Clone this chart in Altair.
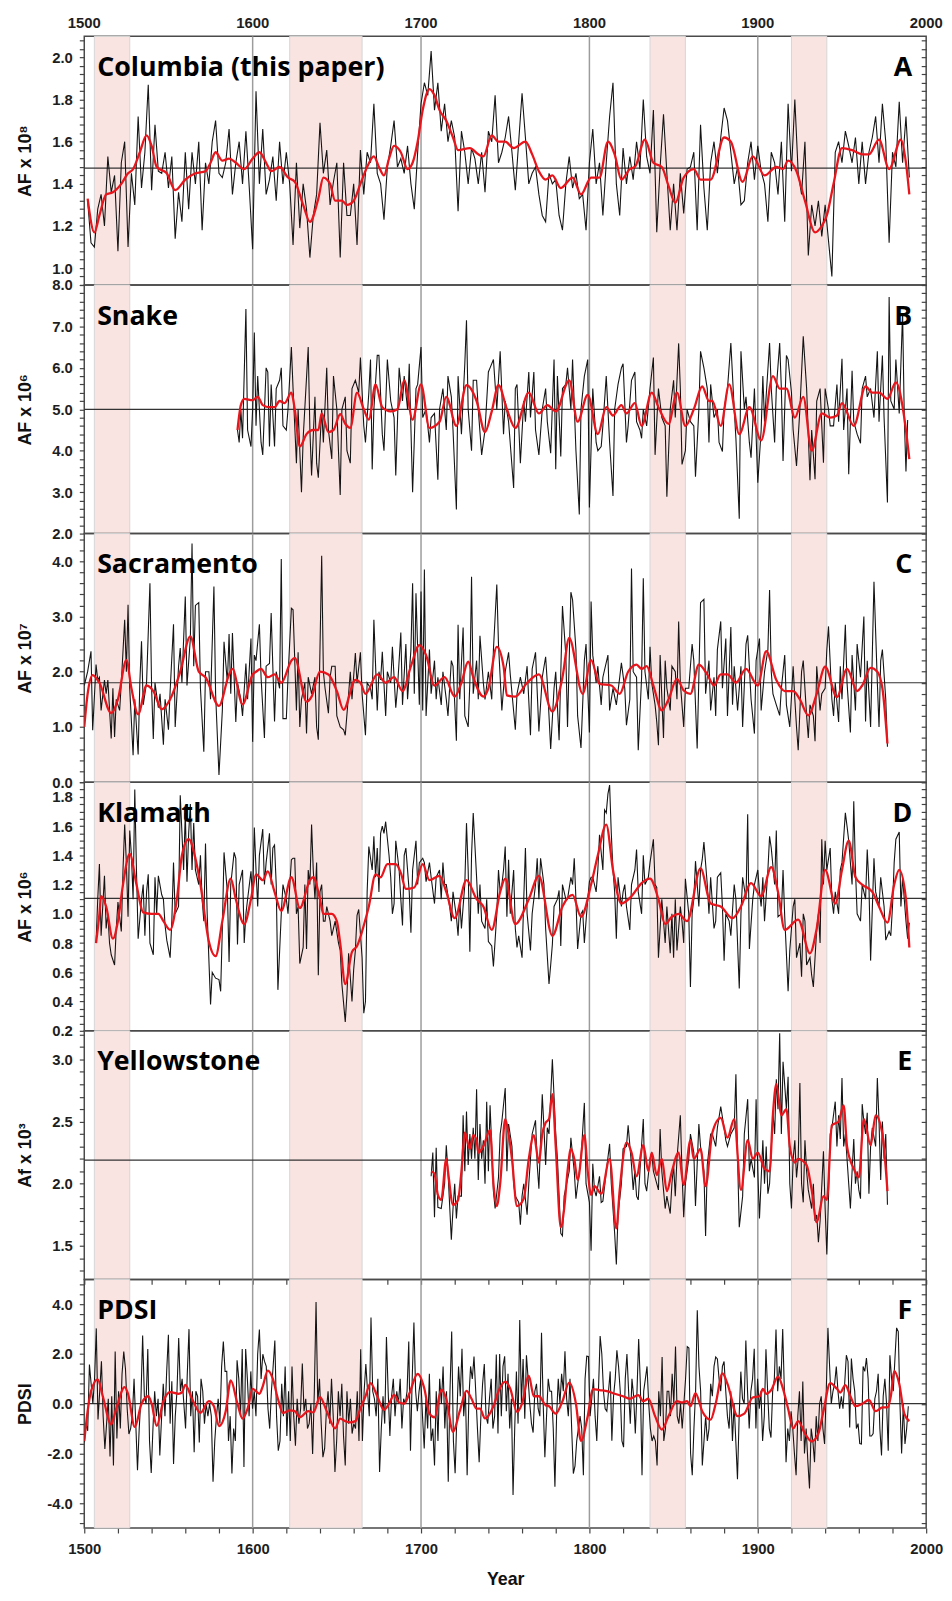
import numpy as np
import pandas as pd
import altair as alt

# ---------------- data ----------------
BANDS_START = [1506, 1622, 1836, 1920]
BANDS_END = [1527, 1665, 1857, 1941]
CENTURIES = [1600, 1700, 1800, 1900]
YEAR_LABELS = [1500, 1600, 1700, 1800, 1900, 2000]

# Columbia, every 2 years from 1502
col_start = 1502
col_vals = [
    1.32, 1.12, 1.10, 1.28, 1.35, 1.20, 1.53, 1.36, 1.44, 1.08,
    1.50, 1.60, 1.10, 1.45, 1.30, 1.72, 1.38, 1.55, 1.87, 1.37,
    1.68, 1.46, 1.45, 1.55, 1.38, 1.53, 1.14, 1.36, 1.22, 1.55,
    1.28, 1.55, 1.40, 1.60, 1.18, 1.50, 1.40, 1.60, 1.70, 1.45,
    1.43, 1.50, 1.66, 1.35, 1.50, 1.60, 1.40, 1.65, 1.38, 1.09,
    1.84, 1.40, 1.66, 1.35, 1.42, 1.53, 1.32, 1.60, 1.40, 1.55,
    1.40, 1.11, 1.50, 1.19, 1.40, 1.28, 1.05, 1.25, 1.35, 1.69,
    1.45, 1.56, 1.30, 1.41, 1.50, 1.05, 1.50, 1.25, 1.25, 1.40,
    1.11, 1.56, 1.35, 1.55, 1.50, 1.78, 1.45, 1.40, 1.23, 1.48,
    1.58, 1.70, 1.48, 1.52, 1.45, 1.58, 1.40, 1.28, 1.55, 1.78,
    1.88, 1.82, 2.03, 1.75, 1.88, 1.65, 1.78, 1.60, 1.70, 1.62,
    1.27, 1.65, 1.55, 1.40, 1.57, 1.52, 1.40, 1.55, 1.36, 1.65,
    1.60, 1.82, 1.50, 1.55, 1.62, 1.72, 1.55, 1.37, 1.60, 1.83,
    1.62, 1.40, 1.45, 1.48, 1.35, 1.25, 1.22, 1.45, 1.40, 1.42,
    1.25, 1.18, 1.40, 1.53, 1.38, 1.45, 1.33, 1.35, 1.18, 1.50,
    1.66, 1.40, 1.50, 1.25, 1.50, 1.72, 1.88, 1.40, 1.25, 1.57,
    1.40, 1.53, 1.42, 1.60, 1.47, 1.80, 1.53, 1.45, 1.75, 1.17,
    1.48, 1.73, 1.45, 1.18, 1.40, 1.18, 1.45, 1.26, 1.47, 1.48,
    1.55, 1.18, 1.68, 1.38, 1.18, 1.50, 1.60, 1.45, 1.62, 1.76,
    1.70, 1.55, 1.40, 1.48, 1.30, 1.32, 1.50, 1.60, 1.42, 1.58,
    1.46, 1.40, 1.22, 1.55, 1.50, 1.35, 1.60, 1.22, 1.78, 1.46,
    1.80, 1.45, 1.35, 1.60, 1.06, 1.30, 1.20, 1.32, 1.15, 1.30,
    1.13, 0.96, 1.55, 1.60, 1.50, 1.65, 1.58, 1.50, 1.62, 1.40,
    1.60, 1.40, 1.55, 1.62, 1.72, 1.50, 1.78, 1.60, 1.12, 1.55,
    1.48, 1.79, 1.50, 1.72, 1.43,
]
col_red = [
    (1502, 1.33), (1506, 1.17), (1509, 1.25), (1513, 1.35), (1517, 1.36), (1522, 1.40),
    (1526, 1.45), (1529, 1.47), (1533, 1.55), (1537, 1.63), (1540, 1.58), (1543, 1.48),
    (1549, 1.45), (1554, 1.37), (1560, 1.42), (1566, 1.45), (1572, 1.46), (1575, 1.50),
    (1578, 1.55), (1582, 1.51), (1586, 1.52), (1590, 1.50), (1595, 1.47), (1600, 1.52),
    (1604, 1.55), (1608, 1.50), (1611, 1.46), (1616, 1.48), (1621, 1.43), (1625, 1.41),
    (1630, 1.30), (1634, 1.22), (1639, 1.33), (1642, 1.43), (1646, 1.40), (1649, 1.32),
    (1653, 1.32), (1656, 1.30), (1660, 1.32), (1664, 1.40), (1668, 1.48), (1672, 1.53),
    (1675, 1.48), (1678, 1.44), (1681, 1.52), (1684, 1.58), (1688, 1.55), (1692, 1.47),
    (1695, 1.50), (1698, 1.60), (1701, 1.75), (1705, 1.85), (1708, 1.82), (1711, 1.75),
    (1715, 1.70), (1719, 1.62), (1722, 1.56), (1729, 1.57), (1734, 1.54), (1737, 1.53),
    (1742, 1.63), (1746, 1.60), (1750, 1.60), (1755, 1.57), (1762, 1.60), (1766, 1.54),
    (1770, 1.46), (1774, 1.42), (1778, 1.44), (1783, 1.38), (1790, 1.43), (1795, 1.35),
    (1801, 1.43), (1806, 1.43), (1811, 1.60), (1815, 1.54), (1819, 1.42), (1824, 1.47),
    (1827, 1.48), (1833, 1.61), (1838, 1.50), (1843, 1.48), (1847, 1.39), (1851, 1.31),
    (1856, 1.43), (1862, 1.47), (1866, 1.42), (1872, 1.42), (1880, 1.62), (1884, 1.60),
    (1891, 1.41), (1897, 1.53), (1904, 1.44), (1911, 1.48), (1915, 1.47), (1918, 1.51),
    (1923, 1.46), (1928, 1.32), (1934, 1.17), (1938, 1.20), (1941, 1.25), (1945, 1.40),
    (1950, 1.57), (1956, 1.56), (1962, 1.54), (1966, 1.54), (1972, 1.61), (1978, 1.47),
    (1985, 1.61), (1988, 1.50), (1990, 1.35),
]

snake_obs = [
    (1591, 4.5), (1592, 4.2), (1593, 5.0), (1594, 4.3), (1596, 7.42), (1597, 4.5), (1599, 4.1),
    (1600, 5.0), (1601, 6.85), (1602, 4.6), (1603, 5.8), (1605, 4.2), (1606, 3.9), (1608, 6.0),
    (1609, 5.9), (1610, 4.1), (1611, 5.6), (1613, 4.1), (1614, 5.5), (1616, 5.7), (1617, 6.0),
    (1618, 4.6), (1620, 4.5), (1621, 5.0), (1623, 6.5), (1624, 5.5), (1626, 3.7), (1627, 5.0),
    (1629, 3.0), (1630, 4.3), (1633, 6.5), (1634, 4.5), (1635, 3.4), (1637, 5.3), (1638, 3.7),
    (1639, 3.35), (1641, 5.0), (1642, 4.2), (1644, 6.0), (1645, 4.5), (1647, 3.8), (1648, 5.8),
    (1650, 5.0), (1652, 2.93), (1653, 5.0), (1655, 5.3), (1656, 4.0), (1658, 3.7), (1659, 5.5),
    (1661, 5.7), (1663, 5.4), (1664, 6.25), (1666, 4.6), (1667, 4.2), (1669, 5.4), (1670, 6.2),
    (1671, 3.55), (1672, 5.0), (1674, 6.3), (1675, 6.3), (1677, 4.4), (1678, 4.0), (1680, 6.2),
    (1682, 5.2), (1684, 4.8), (1685, 3.4), (1687, 6.0), (1689, 5.2), (1690, 5.8), (1692, 5.0),
    (1693, 6.1), (1695, 3.0), (1697, 5.5), (1698, 5.6), (1700, 6.5), (1701, 4.8), (1703, 5.0),
    (1705, 4.2), (1706, 4.8), (1708, 4.9), (1710, 3.3), (1711, 5.0), (1713, 5.5), (1715, 4.5),
    (1716, 5.8), (1718, 5.3), (1719, 4.5), (1721, 2.58), (1722, 5.8), (1724, 4.4), (1726, 6.1),
    (1727, 7.15), (1728, 5.0), (1730, 4.0), (1731, 5.7), (1733, 5.7), (1734, 5.0), (1736, 3.9),
    (1738, 4.5), (1740, 5.9), (1741, 6.0), (1743, 6.2), (1745, 5.0), (1747, 6.4), (1749, 4.4),
    (1750, 5.2), (1752, 4.7), (1755, 3.1), (1756, 5.5), (1757, 5.6), (1759, 3.7), (1761, 5.2),
    (1762, 4.7), (1764, 5.9), (1765, 4.8), (1767, 5.9), (1768, 4.5), (1770, 3.9), (1772, 5.0),
    (1774, 5.5), (1775, 4.7), (1777, 3.94), (1779, 6.2), (1780, 3.55), (1781, 5.8), (1783, 3.86),
    (1784, 5.5), (1786, 5.6), (1787, 6.0), (1789, 5.0), (1790, 6.2), (1792, 4.0), (1794, 2.46),
    (1795, 5.0), (1797, 5.8), (1799, 6.2), (1800, 2.63), (1802, 5.5), (1804, 4.2), (1805, 4.0),
    (1807, 4.1), (1808, 4.6), (1810, 5.8), (1812, 4.2), (1814, 2.91), (1815, 5.0), (1817, 5.6),
    (1819, 6.0), (1820, 6.1), (1822, 4.2), (1823, 4.6), (1825, 5.7), (1827, 5.9), (1828, 4.7),
    (1830, 4.5), (1831, 4.3), (1832, 5.0), (1834, 4.6), (1836, 5.5), (1838, 6.25), (1839, 3.9),
    (1841, 5.5), (1843, 4.8), (1845, 4.6), (1846, 2.89), (1848, 5.0), (1850, 5.7), (1851, 4.8),
    (1853, 6.59), (1854, 5.5), (1855, 3.67), (1857, 4.0), (1858, 5.0), (1860, 4.7), (1862, 4.6),
    (1863, 3.37), (1865, 5.0), (1866, 6.4), (1868, 6.0), (1870, 5.5), (1871, 4.2), (1872, 5.6),
    (1874, 4.8), (1876, 5.0), (1877, 4.2), (1879, 3.98), (1880, 5.0), (1882, 5.5), (1884, 6.6),
    (1886, 5.0), (1887, 4.3), (1889, 2.36), (1890, 6.4), (1892, 5.0), (1893, 5.3), (1895, 4.2),
    (1896, 3.83), (1898, 5.5), (1900, 3.23), (1902, 4.5), (1903, 5.8), (1904, 4.7), (1907, 6.6),
    (1908, 5.5), (1910, 4.2), (1911, 5.5), (1913, 6.6), (1914, 5.5), (1915, 3.75), (1917, 6.3),
    (1918, 6.2), (1920, 5.4), (1921, 4.5), (1923, 3.63), (1925, 5.0), (1927, 6.76), (1929, 5.5),
    (1931, 3.29), (1932, 4.5), (1934, 3.31), (1935, 5.2), (1937, 5.5), (1939, 3.71), (1940, 5.5),
    (1942, 5.0), (1943, 4.6), (1945, 4.6), (1947, 5.6), (1948, 4.7), (1950, 6.22), (1951, 4.5),
    (1953, 5.5), (1954, 3.43), (1956, 5.93), (1957, 4.7), (1959, 4.4), (1961, 4.18), (1962, 5.5),
    (1964, 5.8), (1965, 5.3), (1967, 5.5), (1969, 4.8), (1971, 6.4), (1972, 4.7), (1974, 6.3),
    (1975, 4.8), (1977, 2.75), (1978, 7.71), (1979, 5.2), (1981, 5.0), (1982, 6.2), (1984, 4.9),
    (1986, 7.32), (1987, 4.8), (1988, 3.5), (1989, 4.74),
]
snake_red = [
    (1591, 4.5), (1593, 5.1), (1595, 5.25), (1600, 5.22), (1603, 5.3), (1606, 5.1), (1610, 5.05),
    (1613, 5.05), (1616, 5.2), (1619, 5.15), (1623, 5.4), (1625, 5.0), (1628, 4.1), (1632, 4.4),
    (1636, 4.5), (1639, 4.5), (1641, 4.9), (1645, 4.45), (1648, 4.5), (1652, 4.88), (1655, 4.65),
    (1658, 4.55), (1662, 5.4), (1666, 5.0), (1669, 4.75), (1673, 5.6), (1677, 5.05), (1682, 4.95),
    (1686, 5.0), (1690, 5.7), (1695, 4.75), (1700, 5.6), (1705, 4.55), (1711, 4.7), (1715, 5.3),
    (1721, 4.6), (1727, 5.58), (1733, 5.2), (1738, 4.45), (1742, 4.95), (1746, 5.58), (1751, 5.0),
    (1756, 4.55), (1764, 5.4), (1770, 4.9), (1775, 5.1), (1780, 4.95), (1788, 5.7), (1793, 4.7),
    (1799, 5.35), (1805, 4.4), (1810, 5.05), (1814, 4.85), (1819, 5.1), (1822, 4.9), (1827, 5.15),
    (1831, 4.6), (1837, 5.4), (1841, 5.05), (1847, 4.65), (1852, 5.4), (1857, 4.6), (1862, 5.0),
    (1867, 5.55), (1871, 5.2), (1873, 5.2), (1878, 4.6), (1883, 5.6), (1889, 4.4), (1895, 5.05),
    (1902, 4.25), (1909, 5.8), (1913, 5.5), (1917, 5.5), (1922, 4.8), (1927, 5.3), (1932, 4.0),
    (1938, 4.9), (1943, 4.8), (1947, 4.85), (1950, 5.15), (1957, 4.6), (1964, 5.55), (1968, 5.4),
    (1972, 5.4), (1977, 5.25), (1982, 5.65), (1987, 4.8), (1990, 3.8),
]

sac_obs = [
    (1500, 1.75), (1502, 2.00), (1504, 2.37), (1505, 0.94), (1507, 2.13), (1508, 1.85), (1509, 1.90),
    (1510, 1.30), (1512, 1.85), (1513, 1.60), (1514, 1.85), (1516, 0.79), (1517, 1.70), (1518, 0.82),
    (1519, 1.50), (1521, 1.30), (1522, 1.80), (1524, 2.94), (1525, 2.00), (1526, 3.21), (1527, 1.70),
    (1529, 0.49), (1530, 1.50), (1532, 0.50), (1533, 1.80), (1534, 2.55), (1535, 1.40), (1537, 1.80),
    (1539, 3.60), (1540, 1.70), (1541, 0.78), (1542, 1.80), (1544, 1.35), (1545, 1.60), (1547, 0.68),
    (1548, 1.50), (1550, 0.95), (1551, 1.65), (1553, 2.86), (1554, 1.00), (1556, 2.10), (1557, 2.43),
    (1558, 1.80), (1560, 3.36), (1561, 1.75), (1563, 2.60), (1564, 4.32), (1565, 2.10), (1566, 3.20),
    (1568, 3.25), (1569, 1.70), (1571, 0.55), (1572, 2.00), (1574, 2.00), (1575, 1.50), (1577, 3.54),
    (1578, 1.60), (1580, 0.13), (1582, 1.30), (1583, 2.54), (1585, 1.80), (1586, 2.68), (1587, 1.60),
    (1588, 2.70), (1590, 1.09), (1591, 1.80), (1593, 1.50), (1594, 1.20), (1596, 2.15), (1597, 1.50),
    (1599, 2.60), (1600, 0.73), (1601, 2.30), (1602, 2.20), (1604, 2.86), (1605, 1.90), (1607, 0.80),
    (1608, 2.10), (1610, 2.15), (1611, 3.06), (1613, 1.10), (1614, 2.00), (1616, 1.70), (1617, 4.04),
    (1618, 1.15), (1620, 1.15), (1621, 1.90), (1623, 3.15), (1624, 3.12), (1626, 1.30), (1627, 2.35),
    (1628, 1.00), (1629, 1.50), (1631, 1.80), (1632, 0.88), (1633, 1.90), (1635, 1.60), (1637, 1.90),
    (1638, 1.00), (1639, 0.77), (1641, 4.10), (1642, 2.00), (1643, 1.70), (1645, 1.25), (1646, 1.90),
    (1647, 2.10), (1649, 2.10), (1650, 1.20), (1652, 1.00), (1654, 0.95), (1655, 0.85), (1657, 1.60),
    (1658, 2.00), (1659, 1.50), (1661, 2.34), (1662, 1.80), (1664, 2.35), (1665, 1.60), (1667, 0.85),
    (1668, 1.80), (1670, 1.70), (1671, 1.50), (1672, 2.94), (1674, 1.30), (1675, 2.00), (1676, 1.85),
    (1677, 2.36), (1679, 1.20), (1680, 2.00), (1682, 1.80), (1683, 2.45), (1685, 1.35), (1686, 1.70),
    (1688, 2.71), (1689, 1.40), (1691, 2.50), (1692, 1.50), (1694, 2.40), (1695, 3.60), (1696, 1.60),
    (1697, 3.42), (1699, 1.40), (1700, 3.45), (1701, 1.30), (1702, 3.85), (1703, 1.20), (1705, 2.40),
    (1706, 1.60), (1708, 2.20), (1709, 1.50), (1710, 1.90), (1712, 1.40), (1713, 2.00), (1715, 1.50),
    (1716, 1.20), (1718, 2.20), (1719, 2.10), (1721, 0.75), (1722, 2.85), (1723, 1.50), (1725, 2.80),
    (1726, 1.20), (1728, 1.00), (1729, 1.80), (1730, 3.72), (1731, 1.60), (1733, 2.20), (1734, 1.50),
    (1735, 2.65), (1737, 1.80), (1738, 1.50), (1740, 2.00), (1742, 1.50), (1743, 2.40), (1745, 3.58),
    (1746, 2.50), (1748, 1.30), (1749, 1.70), (1750, 2.00), (1752, 2.35), (1753, 1.95), (1756, 0.95),
    (1757, 1.60), (1759, 1.90), (1761, 1.60), (1763, 2.10), (1765, 0.85), (1766, 2.05), (1768, 2.35),
    (1770, 0.92), (1772, 1.90), (1774, 2.27), (1775, 1.80), (1777, 0.60), (1779, 1.70), (1780, 2.00),
    (1782, 0.76), (1784, 3.19), (1786, 2.30), (1787, 1.00), (1789, 3.44), (1790, 3.30), (1792, 2.40),
    (1793, 1.20), (1795, 0.62), (1797, 2.20), (1798, 2.50), (1800, 0.90), (1801, 3.27), (1802, 2.30),
    (1804, 1.80), (1805, 2.10), (1807, 1.40), (1808, 1.90), (1811, 2.30), (1812, 1.30), (1814, 1.70),
    (1816, 1.40), (1818, 1.90), (1819, 2.16), (1821, 1.70), (1822, 1.03), (1824, 1.50), (1825, 3.87),
    (1826, 2.00), (1828, 1.90), (1829, 0.58), (1831, 1.90), (1832, 3.69), (1833, 2.00), (1835, 1.50),
    (1836, 2.45), (1837, 1.80), (1839, 1.40), (1840, 1.09), (1841, 0.67), (1842, 2.30), (1844, 0.80),
    (1845, 2.20), (1846, 1.70), (1848, 1.30), (1849, 2.10), (1851, 2.00), (1852, 1.50), (1853, 2.91),
    (1854, 1.80), (1856, 1.00), (1857, 1.70), (1859, 1.70), (1861, 2.50), (1862, 2.20), (1864, 0.61),
    (1865, 1.90), (1866, 3.25), (1868, 3.31), (1869, 1.60), (1871, 2.20), (1872, 1.30), (1874, 1.90),
    (1875, 1.20), (1876, 2.40), (1878, 2.91), (1879, 1.70), (1881, 2.60), (1882, 1.20), (1884, 2.81),
    (1885, 1.40), (1886, 2.10), (1888, 1.30), (1890, 2.10), (1891, 1.00), (1893, 2.50), (1894, 2.66),
    (1896, 1.50), (1898, 0.88), (1899, 2.20), (1901, 2.60), (1902, 1.30), (1904, 2.00), (1906, 2.40),
    (1907, 3.48), (1908, 2.00), (1909, 1.60), (1911, 1.40), (1913, 1.21), (1914, 1.70), (1916, 2.30),
    (1917, 1.40), (1919, 1.00), (1921, 2.10), (1922, 1.50), (1923, 1.00), (1924, 0.58), (1926, 2.00),
    (1927, 2.20), (1929, 1.20), (1930, 0.80), (1931, 1.40), (1933, 1.20), (1934, 0.74), (1935, 2.10),
    (1937, 1.30), (1938, 1.60), (1940, 1.70), (1941, 2.40), (1942, 2.82), (1944, 1.50), (1945, 1.20),
    (1946, 1.80), (1948, 1.09), (1949, 2.10), (1950, 1.50), (1952, 2.85), (1953, 1.80), (1955, 0.90),
    (1956, 2.30), (1958, 1.30), (1959, 2.50), (1961, 1.90), (1963, 3.00), (1964, 1.10), (1965, 2.20),
    (1967, 1.00), (1968, 2.30), (1969, 3.63), (1971, 1.80), (1972, 1.00), (1973, 2.20), (1974, 2.40),
    (1976, 1.50), (1977, 0.64),
]
sac_red = [
    (1500, 1.00), (1502, 1.60), (1505, 1.94), (1509, 1.80), (1516, 1.25), (1520, 1.50), (1525, 2.21),
    (1528, 1.70), (1532, 1.23), (1537, 1.75), (1541, 1.65), (1546, 1.32), (1551, 1.50), (1557, 2.00),
    (1563, 2.64), (1568, 2.00), (1572, 1.90), (1580, 1.38), (1586, 1.95), (1588, 2.05), (1594, 1.41),
    (1600, 1.95), (1602, 2.00), (1605, 2.05), (1609, 1.90), (1613, 1.95), (1617, 1.80), (1623, 2.20),
    (1625, 2.25), (1632, 1.46), (1635, 1.55), (1640, 2.00), (1645, 1.95), (1650, 1.65), (1654, 1.31),
    (1661, 1.85), (1664, 1.80), (1667, 1.60), (1674, 1.95), (1679, 1.80), (1684, 1.90), (1689, 1.65),
    (1694, 2.10), (1699, 2.48), (1703, 2.30), (1708, 1.75), (1714, 1.90), (1720, 1.55), (1724, 1.80),
    (1728, 2.18), (1731, 1.90), (1737, 1.55), (1740, 1.70), (1745, 2.45), (1749, 2.10), (1751, 1.57),
    (1756, 1.55), (1763, 1.80), (1770, 1.95), (1778, 1.28), (1784, 1.90), (1788, 2.61), (1796, 1.60),
    (1801, 2.21), (1806, 1.78), (1813, 1.75), (1818, 1.60), (1823, 2.00), (1828, 2.13), (1831, 2.05),
    (1834, 2.10), (1838, 1.75), (1843, 1.30), (1847, 1.50), (1852, 1.87), (1856, 1.66), (1860, 1.60),
    (1865, 2.13), (1870, 1.95), (1874, 1.75), (1878, 1.95), (1882, 1.95), (1887, 1.80), (1893, 2.05),
    (1900, 1.75), (1905, 2.37), (1911, 1.85), (1916, 1.65), (1921, 1.65), (1925, 1.50), (1930, 1.21),
    (1935, 1.60), (1940, 2.09), (1947, 1.54), (1953, 2.05), (1959, 1.65), (1962, 1.75), (1967, 2.07),
    (1971, 2.00), (1974, 1.70), (1977, 0.70),
]

kla_obs = [
    (1507, 0.80), (1508, 1.10), (1509, 1.34), (1510, 0.85), (1512, 1.26), (1513, 0.90), (1514, 1.00),
    (1515, 0.80), (1516, 0.72), (1518, 0.65), (1519, 0.90), (1520, 1.08), (1522, 0.88), (1523, 1.30),
    (1524, 1.61), (1525, 1.35), (1526, 0.98), (1527, 1.57), (1528, 1.40), (1529, 1.10), (1530, 1.85),
    (1531, 1.30), (1532, 0.83), (1534, 1.10), (1535, 1.20), (1536, 0.85), (1537, 1.15), (1538, 1.27),
    (1539, 0.80), (1541, 0.72), (1542, 1.25), (1543, 1.00), (1544, 1.26), (1546, 1.13), (1547, 1.10),
    (1548, 0.92), (1549, 0.82), (1551, 0.70), (1552, 0.95), (1553, 1.35), (1554, 1.00), (1556, 1.05),
    (1557, 1.81), (1559, 1.30), (1560, 1.69), (1561, 1.22), (1562, 1.55), (1563, 1.75), (1564, 1.30),
    (1565, 1.62), (1566, 1.30), (1568, 1.20), (1569, 1.40), (1570, 1.10), (1571, 0.95), (1572, 1.48),
    (1573, 1.00), (1575, 0.38), (1576, 0.60), (1578, 0.56), (1580, 0.55), (1581, 0.47), (1582, 0.90),
    (1583, 1.42), (1585, 1.15), (1586, 0.67), (1587, 1.20), (1589, 1.42), (1590, 1.38), (1591, 0.79),
    (1592, 1.20), (1594, 1.30), (1595, 0.80), (1596, 1.00), (1597, 1.10), (1599, 1.29), (1600, 1.10),
    (1601, 1.59), (1602, 1.30), (1603, 1.05), (1604, 1.40), (1606, 1.58), (1607, 1.20), (1608, 1.35),
    (1610, 1.55), (1611, 1.20), (1612, 1.45), (1613, 1.47), (1614, 1.20), (1615, 0.48), (1617, 1.00),
    (1618, 1.20), (1619, 1.15), (1620, 1.10), (1621, 1.00), (1623, 1.37), (1624, 1.38), (1625, 1.38),
    (1626, 1.00), (1627, 1.05), (1628, 0.66), (1630, 0.77), (1631, 1.20), (1632, 0.76), (1633, 1.30),
    (1634, 1.20), (1635, 1.61), (1636, 1.30), (1637, 1.10), (1638, 1.35), (1639, 0.58), (1640, 1.15),
    (1641, 1.20), (1642, 0.95), (1643, 0.95), (1644, 1.05), (1646, 0.95), (1647, 0.85), (1648, 0.90),
    (1649, 0.95), (1651, 0.80), (1652, 0.75), (1653, 0.52), (1655, 0.26), (1656, 0.45), (1657, 0.73),
    (1659, 0.40), (1660, 0.62), (1661, 0.75), (1662, 0.99), (1663, 1.03), (1665, 0.70), (1666, 0.32),
    (1667, 0.40), (1668, 1.15), (1669, 1.46), (1671, 1.30), (1672, 1.53), (1673, 1.25), (1674, 1.45),
    (1675, 1.15), (1676, 1.55), (1677, 1.60), (1678, 1.55), (1679, 1.63), (1681, 1.40), (1682, 1.25),
    (1683, 1.00), (1684, 1.07), (1685, 1.50), (1687, 1.30), (1688, 1.10), (1689, 0.92), (1690, 1.40),
    (1691, 1.45), (1693, 1.15), (1694, 0.87), (1695, 1.30), (1697, 1.50), (1698, 1.20), (1699, 1.35),
    (1701, 1.38), (1702, 1.35), (1703, 1.22), (1705, 1.35), (1706, 1.25), (1708, 1.07), (1709, 1.25),
    (1711, 1.30), (1712, 1.10), (1713, 1.35), (1714, 1.20), (1715, 1.20), (1717, 1.05), (1718, 0.95),
    (1719, 1.15), (1721, 0.98), (1722, 0.85), (1723, 1.10), (1724, 0.90), (1726, 1.20), (1727, 1.62),
    (1728, 1.30), (1729, 0.74), (1730, 1.40), (1731, 1.69), (1733, 1.25), (1734, 1.00), (1735, 1.20),
    (1736, 0.95), (1738, 0.90), (1739, 1.10), (1740, 0.81), (1742, 0.78), (1743, 0.64), (1745, 1.00),
    (1746, 1.30), (1747, 1.15), (1748, 1.20), (1749, 1.30), (1750, 1.46), (1751, 0.98), (1752, 1.37),
    (1753, 1.00), (1755, 1.30), (1756, 0.90), (1757, 0.77), (1758, 0.85), (1760, 0.70), (1761, 1.10),
    (1762, 1.45), (1763, 1.00), (1765, 0.75), (1766, 1.00), (1768, 1.20), (1769, 1.38), (1770, 1.10),
    (1771, 1.38), (1773, 1.20), (1774, 0.90), (1776, 0.52), (1777, 0.65), (1778, 0.79), (1779, 1.05),
    (1781, 1.10), (1782, 1.16), (1783, 0.78), (1784, 1.20), (1786, 1.10), (1787, 1.10), (1789, 1.25),
    (1790, 1.20), (1791, 1.38), (1792, 1.10), (1793, 0.76), (1795, 1.00), (1796, 1.02), (1797, 0.80),
    (1799, 1.10), (1800, 1.22), (1801, 1.25), (1802, 1.25), (1804, 1.15), (1805, 1.30), (1806, 1.54),
    (1808, 1.30), (1809, 1.71), (1810, 1.69), (1811, 1.82), (1812, 1.88), (1813, 1.55), (1814, 1.30),
    (1815, 1.15), (1816, 0.83), (1817, 1.25), (1819, 1.05), (1820, 1.15), (1821, 1.20), (1822, 1.05),
    (1824, 0.89), (1825, 1.20), (1827, 1.30), (1828, 1.44), (1829, 1.15), (1831, 1.00), (1832, 1.40),
    (1833, 1.20), (1835, 1.25), (1836, 1.35), (1838, 1.51), (1839, 1.20), (1840, 1.18), (1841, 0.70),
    (1843, 1.10), (1844, 0.95), (1845, 0.80), (1846, 1.05), (1848, 0.73), (1849, 1.00), (1850, 0.70),
    (1851, 1.10), (1852, 0.75), (1854, 1.05), (1855, 0.95), (1856, 0.80), (1857, 1.24), (1859, 1.00),
    (1860, 0.50), (1861, 1.00), (1862, 1.10), (1863, 1.36), (1865, 1.05), (1866, 1.30), (1867, 1.37),
    (1868, 1.49), (1870, 1.20), (1871, 1.00), (1872, 1.25), (1874, 0.90), (1875, 0.95), (1876, 1.25),
    (1878, 1.28), (1879, 1.05), (1880, 0.68), (1881, 1.00), (1883, 0.95), (1884, 0.85), (1886, 1.20),
    (1887, 1.10), (1889, 0.49), (1890, 1.00), (1891, 1.25), (1893, 1.10), (1894, 1.68), (1895, 0.76),
    (1897, 1.10), (1898, 1.20), (1900, 1.30), (1901, 1.15), (1902, 1.05), (1903, 1.25), (1904, 0.95),
    (1906, 1.30), (1907, 1.53), (1908, 1.45), (1910, 1.20), (1911, 1.57), (1912, 0.98), (1914, 1.00),
    (1915, 1.30), (1916, 0.98), (1918, 0.47), (1919, 0.75), (1921, 1.05), (1922, 1.10), (1923, 0.70),
    (1925, 0.80), (1926, 0.57), (1927, 1.00), (1928, 0.95), (1929, 0.65), (1931, 0.70), (1932, 0.58),
    (1933, 0.50), (1935, 0.90), (1936, 1.00), (1937, 0.80), (1938, 1.51), (1939, 1.20), (1940, 1.50),
    (1941, 1.30), (1943, 1.45), (1944, 1.10), (1945, 1.00), (1946, 1.15), (1948, 1.00), (1949, 1.30),
    (1950, 1.35), (1952, 1.69), (1953, 1.60), (1954, 1.50), (1956, 1.20), (1957, 1.77), (1958, 1.30),
    (1959, 1.00), (1961, 0.95), (1962, 1.20), (1964, 1.10), (1965, 1.44), (1966, 1.20), (1967, 0.68),
    (1969, 1.38), (1970, 1.15), (1972, 1.05), (1973, 1.25), (1975, 1.05), (1976, 0.82), (1978, 0.88),
    (1979, 0.85), (1980, 1.05), (1981, 1.35), (1982, 1.51), (1984, 1.56), (1985, 1.05), (1986, 1.25),
    (1988, 0.95), (1989, 0.83), (1990, 0.94),
]
kla_red = [
    (1507, 0.80), (1509, 1.00), (1510, 1.12), (1513, 1.05), (1517, 0.83), (1520, 0.95), (1523, 1.20),
    (1527, 1.41), (1531, 1.20), (1535, 1.01), (1540, 1.00), (1544, 1.00), (1547, 0.95), (1551, 0.89),
    (1555, 1.10), (1558, 1.40), (1562, 1.51), (1566, 1.38), (1569, 1.20), (1574, 0.81), (1578, 0.71),
    (1582, 0.95), (1587, 1.24), (1590, 1.10), (1595, 0.93), (1599, 1.10), (1602, 1.27), (1606, 1.23),
    (1609, 1.29), (1613, 1.15), (1617, 1.02), (1623, 1.25), (1628, 1.04), (1634, 1.23), (1636, 1.25),
    (1640, 1.10), (1642, 1.00), (1647, 1.00), (1650, 0.95), (1652, 0.80), (1655, 0.52), (1659, 0.74),
    (1662, 0.78), (1666, 0.92), (1669, 1.05), (1673, 1.27), (1676, 1.25), (1680, 1.34), (1685, 1.34),
    (1688, 1.28), (1691, 1.17), (1696, 1.18), (1701, 1.34), (1705, 1.23), (1711, 1.26), (1715, 1.15),
    (1720, 0.97), (1727, 1.23), (1733, 1.10), (1737, 1.05), (1742, 0.89), (1747, 1.15), (1750, 1.24),
    (1756, 0.93), (1764, 1.10), (1770, 1.26), (1778, 0.85), (1784, 1.05), (1790, 1.13), (1795, 0.98),
    (1801, 1.20), (1805, 1.40), (1810, 1.61), (1814, 1.30), (1819, 1.07), (1825, 1.12), (1831, 1.21),
    (1836, 1.24), (1841, 1.10), (1845, 0.93), (1849, 0.98), (1853, 1.00), (1858, 0.95), (1866, 1.31),
    (1872, 1.07), (1878, 1.05), (1885, 0.97), (1890, 1.05), (1896, 1.21), (1902, 1.12), (1908, 1.32),
    (1912, 1.15), (1916, 0.89), (1924, 0.96), (1931, 0.73), (1935, 0.90), (1940, 1.30), (1946, 1.07),
    (1950, 1.30), (1954, 1.50), (1958, 1.25), (1962, 1.20), (1968, 1.15), (1972, 1.05), (1977, 0.94),
    (1981, 1.20), (1984, 1.30), (1988, 1.10), (1990, 0.77),
]

yel_obs = [
    (1706, 2.06), (1707, 2.25), (1708, 1.73), (1709, 2.29), (1710, 1.81), (1712, 1.80), (1713, 1.90),
    (1714, 2.00), (1715, 2.31), (1716, 2.10), (1718, 1.55), (1719, 1.80), (1720, 2.00), (1721, 1.72),
    (1722, 1.90), (1724, 1.90), (1725, 2.55), (1726, 2.10), (1727, 2.58), (1728, 2.15), (1729, 2.40),
    (1730, 2.20), (1731, 2.45), (1732, 2.20), (1733, 2.76), (1734, 2.03), (1735, 2.48), (1736, 2.20),
    (1737, 2.35), (1738, 2.00), (1739, 2.66), (1740, 2.10), (1741, 2.63), (1742, 2.30), (1743, 1.94),
    (1744, 1.80), (1746, 2.05), (1747, 2.40), (1748, 2.50), (1750, 2.77), (1751, 2.10), (1752, 2.48),
    (1754, 2.30), (1755, 2.00), (1756, 1.90), (1758, 1.85), (1759, 1.67), (1760, 1.90), (1761, 2.00),
    (1763, 1.75), (1764, 2.00), (1766, 2.40), (1768, 2.51), (1769, 2.15), (1770, 1.96), (1772, 2.72),
    (1773, 2.45), (1774, 2.15), (1775, 2.45), (1776, 2.40), (1778, 3.00), (1780, 2.40), (1781, 2.20),
    (1783, 1.60), (1784, 1.58), (1785, 1.90), (1788, 2.10), (1789, 2.37), (1791, 2.10), (1792, 1.88),
    (1794, 2.10), (1795, 2.20), (1797, 2.65), (1798, 2.00), (1800, 1.85), (1801, 1.46), (1802, 2.16),
    (1803, 1.95), (1804, 1.90), (1806, 2.06), (1807, 1.85), (1808, 1.86), (1810, 2.10), (1812, 2.32),
    (1813, 2.00), (1815, 1.60), (1816, 1.35), (1817, 1.75), (1819, 2.00), (1820, 2.28), (1822, 2.30),
    (1823, 2.47), (1825, 2.15), (1826, 1.95), (1827, 2.10), (1828, 1.90), (1829, 1.87), (1830, 2.10),
    (1832, 2.52), (1833, 2.00), (1834, 1.94), (1836, 2.20), (1837, 2.25), (1838, 2.10), (1840, 2.00),
    (1841, 1.95), (1842, 2.44), (1843, 2.10), (1845, 1.80), (1846, 1.90), (1848, 1.76), (1849, 2.00),
    (1850, 2.15), (1851, 1.90), (1852, 2.20), (1854, 2.55), (1855, 2.10), (1856, 1.73), (1857, 2.00),
    (1859, 2.20), (1860, 2.40), (1862, 2.25), (1863, 1.82), (1865, 2.48), (1866, 2.30), (1868, 2.10),
    (1869, 1.58), (1870, 2.15), (1872, 2.40), (1873, 2.40), (1875, 2.30), (1876, 2.45), (1878, 2.62),
    (1880, 2.45), (1881, 2.35), (1882, 2.30), (1884, 2.40), (1886, 2.45), (1887, 2.88), (1888, 2.20),
    (1889, 1.65), (1891, 1.90), (1892, 2.40), (1894, 2.68), (1895, 2.10), (1896, 2.20), (1898, 2.05),
    (1899, 2.68), (1900, 2.10), (1901, 1.72), (1903, 2.35), (1904, 2.00), (1905, 2.30), (1906, 1.92),
    (1907, 2.00), (1909, 2.57), (1910, 2.40), (1911, 2.84), (1912, 2.60), (1913, 3.21), (1914, 2.40),
    (1915, 2.98), (1917, 2.60), (1918, 2.86), (1919, 2.00), (1920, 1.80), (1921, 2.20), (1922, 2.35),
    (1923, 2.05), (1924, 2.20), (1925, 2.81), (1926, 2.00), (1927, 1.85), (1928, 2.35), (1929, 2.10),
    (1930, 1.95), (1932, 1.80), (1933, 2.00), (1934, 1.70), (1935, 1.75), (1936, 1.53), (1937, 1.70),
    (1939, 2.26), (1940, 1.80), (1941, 1.43), (1942, 1.90), (1943, 2.40), (1944, 2.45), (1946, 2.66),
    (1947, 2.30), (1948, 2.55), (1949, 2.36), (1950, 2.85), (1951, 2.30), (1952, 2.40), (1954, 2.00),
    (1955, 1.80), (1956, 2.10), (1957, 2.36), (1958, 2.00), (1959, 2.10), (1960, 1.95), (1961, 1.88),
    (1962, 2.64), (1963, 2.50), (1964, 2.40), (1965, 2.57), (1966, 1.92), (1967, 2.30), (1968, 2.45),
    (1970, 2.30), (1971, 2.85), (1972, 2.50), (1973, 2.03), (1974, 2.50), (1975, 2.20), (1976, 2.40),
    (1977, 1.83),
]
yel_red = [
    (1706, 2.10), (1708, 2.08), (1710, 1.91), (1712, 1.87), (1715, 2.20), (1716, 2.10), (1719, 1.83),
    (1722, 1.87), (1724, 2.10), (1726, 2.41), (1729, 2.28), (1731, 2.39), (1733, 2.35), (1734, 2.25),
    (1737, 2.30), (1741, 2.43), (1743, 2.00), (1745, 1.82), (1747, 2.00), (1750, 2.52), (1752, 2.40),
    (1754, 2.20), (1757, 1.82), (1761, 1.88), (1764, 2.20), (1767, 2.39), (1770, 2.17), (1772, 2.40),
    (1774, 2.49), (1776, 2.52), (1778, 2.72), (1780, 2.30), (1783, 1.65), (1785, 1.80), (1787, 2.10),
    (1789, 2.28), (1791, 2.20), (1793, 2.03), (1797, 2.39), (1799, 2.10), (1801, 1.91), (1803, 1.98),
    (1807, 1.92), (1812, 2.20), (1816, 1.64), (1818, 1.95), (1822, 2.33), (1825, 2.25), (1828, 2.06),
    (1832, 2.31), (1835, 2.10), (1837, 2.25), (1840, 2.07), (1843, 2.20), (1846, 1.94), (1849, 2.10),
    (1853, 2.25), (1856, 1.99), (1860, 2.35), (1862, 2.20), (1866, 2.28), (1869, 1.98), (1873, 2.41),
    (1878, 2.53), (1882, 2.37), (1886, 2.52), (1890, 1.95), (1894, 2.35), (1897, 2.20), (1900, 2.25),
    (1904, 2.12), (1907, 2.10), (1909, 2.56), (1911, 2.80), (1914, 2.55), (1917, 2.60), (1919, 2.30),
    (1922, 2.17), (1924, 2.20), (1929, 2.15), (1932, 1.95), (1935, 1.69), (1939, 1.90), (1941, 1.87),
    (1944, 2.47), (1948, 2.50), (1951, 2.63), (1953, 2.30), (1957, 2.12), (1960, 2.05), (1963, 2.52),
    (1967, 2.31), (1970, 2.55), (1974, 2.40), (1977, 1.94),
]

# PDSI, read at roughly annual spacing: part 1 spans 1500-1743.7, part 2 spans 1744.7-1989.4
pdsi_span1 = (1500.0, 1743.7)
pdsi_vals1 = [
    -1.56, -0.80, -1.09, 1.58, 0.80, 0.00, 1.00, 3.03, -0.63, 0.50,
    1.71, -0.50, -1.82, -0.80, 0.20, -2.12, 0.30, -2.48, 2.10, -1.40,
    0.50, -1.00, 1.20, 2.10, 1.40, -0.20, -1.22, -1.00, -0.50, 1.00,
    -0.80, -2.68, -1.00, 0.20, 2.74, 0.30, 0.00, 2.20, -1.50, -2.79,
    -1.00, 0.50, -0.50, 0.20, -2.08, -0.60, 0.80, -0.50, 1.30, 2.77,
    -0.80, 0.90, -2.42, -0.50, 0.50, 2.64, 0.50, 1.00, 0.00, -1.00,
    1.20, 3.00, -0.50, 0.50, -1.95, 0.50, 0.30, -1.56, 1.00, 0.50,
    -0.80, 0.00, -0.50, 0.00, -0.50, -3.14, -1.50, -0.50, 0.20, -0.80,
    1.50, 2.50, 1.30, 1.30, -1.50, -0.50, -2.81, -1.00, -1.50, 1.75,
    1.00, -0.50, 2.20, -2.55, 2.20, 1.00, -0.50, 1.30, -0.20, 0.50,
    -0.50, 2.00, 2.98, 1.00, 1.99, 1.70, 1.50, -0.20, -1.00, 0.50,
    1.50, 2.54, -0.50, -1.89, -1.50, 0.80, -0.50, 1.50, -1.30, 0.50,
    -1.50, 1.50, -0.50, -1.69, 0.20, -0.80, -0.20, 1.62, -0.30, 0.20,
    -1.00, -0.80, 0.00, -2.02, 0.50, 4.09, 0.00, 1.00, -0.80, -2.15,
    -1.80, -0.30, 0.50, -0.80, 1.00, -0.50, -2.75, -1.50, 0.50, -0.50,
    0.80, -1.30, -2.48, 0.50, -0.80, 0.20, -1.20, -0.80, -1.00, 0.50,
    -1.50, 2.19, -1.50, 0.50, 1.60, 0.50, -0.50, 3.47, 0.50, 0.20,
    -0.50, 1.00, -2.75, -1.00, 0.30, -0.80, 2.68, 0.50, -1.30, 0.30,
    1.00, -0.50, 0.50, 0.00, 1.00, -1.00, 0.20, 0.00, 0.50, 2.50,
    -1.89, 1.00, 3.27, 0.50, -0.30, 0.50, 1.00, -0.50, -1.80, 0.20,
    -1.00, 1.20, -1.50, -1.00, -2.48, 0.50, -1.50, 1.00, 0.00, 1.50,
    -1.00, 0.50, -3.14, 0.50, 2.90, -1.50, -2.80, -0.50, 1.50, 0.30,
    2.21, -0.50, 0.50, -2.88, 0.20, 1.50, 1.00, 1.90, 0.50, -1.00,
    -2.35, -0.50, 0.80, 1.60, -0.50, -0.80, 0.20, 1.00, -1.00, -0.50,
]
pdsi_span2 = (1744.7, 1989.4)
pdsi_vals2 = [
    1.98, -1.20, 2.00, -0.50, 1.50, 1.91, -0.30, 1.20, -1.00, 0.20,
    -3.67, -1.00, 1.30, -0.80, 3.37, 0.00, 1.80, -0.60, 1.95, 1.00,
    0.00, -0.80, -1.16, 0.50, 0.80, -0.20, -0.50, 2.85, 0.00, -2.15,
    -0.50, 1.00, 0.50, 0.50, -1.00, -3.34, -0.50, 1.00, 0.00, 1.20,
    0.50, 2.11, 0.20, -0.50, 1.00, -1.00, -2.81, -2.50, -1.50, -1.00,
    -0.50, -1.00, -2.88, 1.00, 1.91, 1.90, -0.50, 0.20, 1.00, -0.50,
    -1.50, 0.50, 2.72, 2.00, 0.50, -0.20, -0.30, 0.50, 1.30, -1.49,
    0.30, 1.00, 2.15, 1.50, 0.50, -1.50, -1.75, 1.00, 2.00, 0.50,
    -0.80, 1.00, 0.30, -1.20, 0.50, 2.60, 0.80, -2.88, 0.50, 1.00,
    1.50, 0.00, -1.00, -1.50, -1.30, -1.50, -2.48, 0.50, -0.50, 1.88,
    -1.50, -1.00, 0.50, 0.50, -0.50, 1.20, 0.00, 2.30, -0.50, -0.80,
    0.00, -1.00, 0.00, 1.00, 2.30, 2.24, -2.00, -2.88, -1.00, 0.50,
    3.76, 1.50, 0.50, -2.48, -1.50, -0.50, -1.50, -1.00, 0.80, 0.30,
    1.50, 1.88, 1.80, 1.00, 0.50, 1.50, 1.70, 0.50, -0.50, -1.00,
    0.50, -1.50, 0.00, -1.50, -3.04, -0.50, 1.29, 0.20, 0.00, 2.54,
    0.50, -1.00, 0.50, 1.00, 2.21, -1.00, 1.00, -0.20, 0.50, -1.50,
    -0.50, 2.19, 0.50, -1.00, -1.36, 0.50, 1.00, 2.98, 0.50, 1.50,
    1.00, 3.00, 0.50, -2.35, -1.00, -1.50, -0.30, -1.00, -2.00, -2.88,
    -0.50, 0.50, -1.50, 0.89, -2.00, -1.00, -2.30, -3.41, -1.00, -1.50,
    -2.35, -0.50, -1.50, 0.00, 0.30, -1.00, -1.62, 0.50, 3.05, 1.50,
    0.00, 0.50, 0.80, 1.50, 0.50, -0.20, 0.30, -0.20, 0.80, 1.95,
    1.70, -0.96, 1.82, 1.00, 0.50, -1.00, -0.80, -1.60, -1.62, 1.50,
    1.30, 1.84, 1.00, -1.30, -1.30, -1.20, 0.20, 0.50, 1.20, -1.00,
    -2.08, 0.30, 1.00, 0.00, -1.89, 1.95, 1.00, 0.50, 1.80, 3.05,
    2.90, 0.00, -2.00, 0.00, -1.62, -1.00, -0.10,
]
pdsi_red = [
    (1500, -1.5), (1502, -0.3), (1504, 0.5), (1508, 0.98), (1511, 0.3), (1516, -0.83), (1519, -0.2),
    (1524, 0.67), (1526, 0.4), (1530, -0.93), (1534, 0.0), (1538, 0.3), (1540, 0.0), (1543, -0.89),
    (1547, 0.1), (1551, 0.47), (1556, 0.4), (1558, 0.45), (1560, 0.76), (1564, 0.2), (1569, -0.37),
    (1574, 0.1), (1577, -0.1), (1580, -0.9), (1584, -0.3), (1587, 0.94), (1591, 0.0), (1594, -0.6),
    (1597, -0.2), (1600, 0.6), (1604, 0.4), (1606, 0.7), (1609, 1.33), (1612, 1.0), (1615, 0.2),
    (1618, -0.37), (1622, -0.27), (1625, -0.3), (1628, -0.54), (1633, -0.3), (1636, -0.35),
    (1640, 0.26), (1644, -0.3), (1649, -0.99), (1652, -0.6), (1655, -0.7), (1658, -0.75),
    (1661, -0.7), (1664, -0.2), (1667, 0.3), (1670, 0.83), (1674, 0.3), (1678, -0.25), (1681, 0.0),
    (1684, 0.36), (1687, 0.05), (1690, 0.0), (1693, 0.4), (1698, 1.2), (1702, 0.6), (1705, -0.4),
    (1708, -0.55), (1712, 0.57), (1715, 0.2), (1719, -1.13), (1723, -0.3), (1727, 0.52), (1730, 0.2),
    (1733, -0.2), (1735, -0.2), (1738, -0.59), (1743, -0.1), (1746, 0.5), (1750, 0.89), (1753, 0.6),
    (1757, -0.33), (1760, 0.0), (1764, 1.12), (1767, 0.3), (1770, 0.3), (1774, -0.06), (1776, -0.1),
    (1780, -0.4), (1784, 0.1), (1788, 0.85), (1792, 0.0), (1795, -1.49), (1799, -0.5), (1802, 0.59),
    (1806, 0.55), (1811, 0.5), (1815, 0.4), (1820, 0.3), (1824, 0.2), (1829, 0.35), (1832, 0.1),
    (1835, 0.2), (1839, -0.5), (1843, -1.04), (1847, -0.5), (1852, 0.1), (1855, 0.05), (1858, 0.1),
    (1860, -0.1), (1863, 0.43), (1867, -0.3), (1872, -0.64), (1875, 0.0), (1879, 1.22), (1882, 0.8),
    (1888, -0.5), (1892, -0.4), (1897, 0.25), (1901, 0.3), (1903, 0.6), (1905, 0.4), (1908, 0.55),
    (1912, 1.09), (1915, 0.6), (1918, -0.2), (1921, -0.99), (1924, -0.7), (1928, -1.2), (1932, -1.52),
    (1936, -1.2), (1939, -0.3), (1943, 0.83), (1947, 0.6), (1949, 0.45), (1952, 0.75), (1955, 0.3),
    (1958, -0.1), (1962, 0.0), (1966, 0.15), (1970, -0.3), (1974, -0.15), (1977, -0.15), (1979, 0.3),
    (1981, 1.31), (1984, 0.8), (1987, -0.4), (1990, -0.7),
]

# ---------------- frames ----------------
def pairs_df(p):
    return pd.DataFrame(p, columns=["year", "v"])

col_df = pd.DataFrame({"year": [col_start + 2 * i for i in range(len(col_vals))], "v": col_vals})
pdsi_df = pd.DataFrame({
    "year": list(np.linspace(pdsi_span1[0], pdsi_span1[1], len(pdsi_vals1)))
    + list(np.linspace(pdsi_span2[0], pdsi_span2[1], len(pdsi_vals2))),
    "v": pdsi_vals1 + pdsi_vals2,
})

panels = [
    dict(name="Columbia (this paper)", letter="A", ytitle="AF x 10\u2078", domain=[0.92, 2.1],
         major=0.2, minor=0.04, mean=1.475, obs=col_df, red=pairs_df(col_red)),
    dict(name="Snake", letter="B", ytitle="AF x 10\u2076", domain=[2.0, 8.0],
         major=1.0, minor=0.2, mean=5.0, obs=pairs_df(snake_obs), red=pairs_df(snake_red)),
    dict(name="Sacramento", letter="C", ytitle="AF x 10\u2077", domain=[0.0, 4.5],
         major=1.0, minor=0.2, mean=1.8, obs=pairs_df(sac_obs), red=pairs_df(sac_red)),
    dict(name="Klamath", letter="D", ytitle="AF x 10\u2076", domain=[0.2, 1.9],
         major=0.2, minor=0.05, mean=1.105, obs=pairs_df(kla_obs), red=pairs_df(kla_red)),
    dict(name="Yellowstone", letter="E", ytitle="Af x 10\u00b3", domain=[1.23, 3.23],
         major=0.5, minor=0.1, mean=2.19, obs=pairs_df(yel_obs), red=pairs_df(yel_red)),
    dict(name="PDSI", letter="F", ytitle="PDSI", domain=[-5.0, 5.0],
         major=2.0, minor=0.4, mean=0.0, obs=pdsi_df, red=pairs_df(pdsi_red)),
]

W, H = 850, 251
XT = list(range(1500, 2001, 20))
XLAB = "datum.value % 100 == 0 ? format(datum.value, 'd') : ''"
LABEL_FONT = "Liberation Sans"


def minor_ticks(lo, hi, step):
    n0 = int(np.ceil(lo / step - 1e-9))
    n1 = int(np.floor(hi / step + 1e-9))
    return [round(n * step, 6) for n in range(n0, n1 + 1)]


def make_panel(p, top=False, bottom=False):
    lo, hi = p["domain"]
    xsc = alt.Scale(domain=[1500, 2000], nice=False, zero=False)
    ysc = alt.Scale(domain=[lo, hi], nice=False, zero=False)
    ticks = minor_ticks(lo, hi, p["minor"])
    m = p["major"]
    ylab = (f"abs(datum.value/{m} - round(datum.value/{m})) < 0.001 ? "
            "replace(format(datum.value, '.1f'), '\u2212', '-') : ''")

    band_df = pd.DataFrame({"s": BANDS_START, "e": BANDS_END,
                            "y0": [lo] * len(BANDS_START), "y1": [hi] * len(BANDS_START)})
    cent_df = pd.DataFrame({"x": CENTURIES, "y0": [lo] * len(CENTURIES), "y1": [hi] * len(CENTURIES)})
    mean_df = pd.DataFrame({"m": [p["mean"]], "x0": [1500], "x1": [2000]})

    # inward ticks along the top edge of every panel (axis line pushed 5px inside)
    top_in = alt.Axis(orient="top", offset=-5, tickSize=5, values=XT, labels=False,
                      domain=False, grid=False, title=None)
    bands = alt.Chart(band_df).mark_rect(fill="#f9e4e2", stroke="#d6d6d6", strokeWidth=1).encode(
        x=alt.X("s:Q", scale=xsc, axis=top_in), x2="e:Q",
        y=alt.Y("y0:Q", scale=ysc, axis=None), y2="y1:Q")

    if bottom:
        bax = alt.Axis(orient="bottom", tickSize=5, values=XT, labelExpr=XLAB, labelPadding=9,
                       labelFlush=False, labelOverlap=False, domain=False, grid=False,
                       title="Year", titlePadding=14)
    else:
        bax = None
    rules = alt.Chart(cent_df).mark_rule(color="#9c9c9c", strokeWidth=1.5).encode(
        x=alt.X("x:Q", scale=xsc, axis=bax),
        y=alt.Y("y0:Q", scale=ysc, axis=None), y2="y1:Q")

    right_axis = alt.Axis(orient="right", offset=-5, tickSize=5, values=ticks, labels=False,
                          domain=False, grid=False, title=None)
    mean = alt.Chart(mean_df).mark_rule(color="#333333", strokeWidth=1.2).encode(
        y=alt.Y("m:Q", scale=ysc, axis=right_axis),
        x=alt.X("x0:Q", scale=xsc, axis=None), x2="x1:Q")

    left_axis = alt.Axis(orient="left", values=ticks, labelExpr=ylab, tickSize=5, labelPadding=7,
                         labelOverlap=False, domain=False, grid=False, title=p["ytitle"],
                         titleX=-59, titleY=H / 2, titleAngle=270, titleAlign="center",
                         titleBaseline="middle")
    obs = alt.Chart(p["obs"]).mark_line(color="#141414", strokeWidth=1.1, clip=True).encode(
        x=alt.X("year:Q", scale=xsc, axis=None),
        y=alt.Y("v:Q", scale=ysc, axis=left_axis))
    red = alt.Chart(p["red"]).mark_line(color="#e8161c", strokeWidth=2.3, clip=True,
                                        interpolate="monotone").encode(
        x=alt.X("year:Q", scale=xsc, axis=None),
        y=alt.Y("v:Q", scale=ysc, axis=None))

    t1 = alt.Chart(pd.DataFrame({"t": [p["name"]]})).mark_text(
        align="left", baseline="alphabetic", font="Open Sans", fontWeight="bold",
        fontSize=27, color="#000000").encode(text="t:N", x=alt.value(13), y=alt.value(40))
    t2 = alt.Chart(pd.DataFrame({"t": [p["letter"]]})).mark_text(
        align="right", baseline="alphabetic", font="Open Sans", fontWeight="bold",
        fontSize=27, color="#000000").encode(text="t:N", x=alt.value(W - 14), y=alt.value(40))

    layers = [bands, rules, mean, obs, red, t1, t2]
    if top:
        # year labels above the first panel, placed through the shared x scale
        ylabels = alt.Chart(pd.DataFrame({"yr": YEAR_LABELS, "lab": [str(v) for v in YEAR_LABELS]})).mark_text(
            align="center", baseline="middle", font=LABEL_FONT, fontWeight="bold",
            fontSize=15, color="#1e1e1e").encode(
            x=alt.X("yr:Q", scale=xsc, axis=None), y=alt.value(-13), text="lab:N")
        layers.append(ylabels)

    return alt.layer(*layers).properties(width=W, height=H)


charts = [make_panel(p, top=(i == 0), bottom=(i == len(panels) - 1)) for i, p in enumerate(panels)]

chart = alt.vconcat(*charts, spacing=0, bounds="flush").properties(
    padding={"left": 8, "top": 0, "right": 0, "bottom": 0},
    background="white",
).configure_view(
    stroke="#4a4a4a", strokeWidth=1.5
).configure_axis(
    labelFont=LABEL_FONT, labelFontWeight="bold", labelFontSize=15, labelColor="#1e1e1e",
    titleFont=LABEL_FONT, titleFontWeight="bold", titleFontSize=18, titleColor="#111111",
    tickColor="#444444", tickWidth=1.2,
)

chart.save("out.html", embed_options={"renderer": "svg", "actions": False})
